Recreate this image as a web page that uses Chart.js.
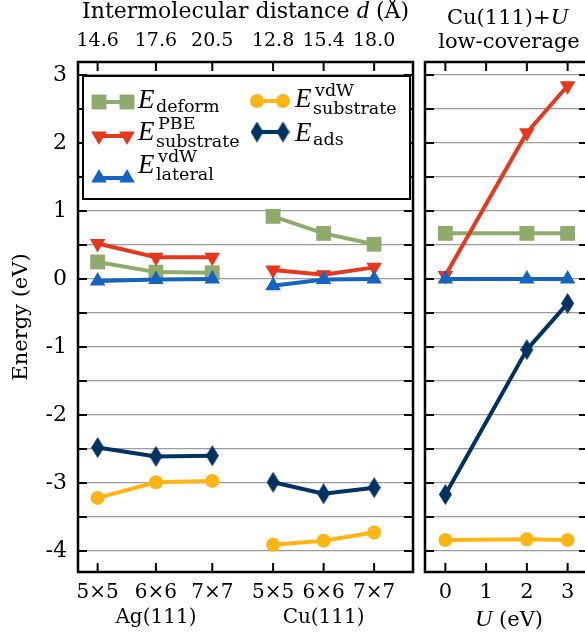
<!DOCTYPE html>
<html lang="en">
<head>
  <meta charset="UTF-8" />
  <title>Energy decomposition - Ag(111) / Cu(111)</title>
  <script src="https://cdn.jsdelivr.net/npm/chart.js"></script>
  <style>
    html, body { margin:0; padding:0; background:#fff; overflow:hidden; }
    #wrap { position:relative; width:585px; height:636px; overflow:hidden; }
    canvas { position:absolute; top:0; }
    #left { left:0; }
    #right { left:420px; }
  </style>
</head>
<body>
  <div id="wrap">
    <canvas id="left" width="420" height="636"></canvas>
    <canvas id="right" width="170" height="636"></canvas>
  </div>

<script>
  // supercells and intermolecular distances (Å)
  const cells = ['5×5', '6×6', '7×7'];
  const surfaces = ['Ag(111)', 'Cu(111)'];
  const agDist = [14.6, 17.6, 20.5];
  const cuDist = [12.8, 15.4, 18.0];
  const uValues = [0, 2, 3];
  const uTicks = [0, 1, 2, 3];
  const yTicks = [-4, -3.5, -3, -2.5, -2, -1.5, -1, -0.5, 0, 0.5, 1, 1.5, 2, 2.5, 3];

  // Ag(111), eV
  const agDeform  = [0.25, 0.10, 0.09];
  const agSubPBE  = [0.52, 0.32, 0.32];
  const agLateral = [-0.03, -0.01, 0.00];
  const agSubVdW  = [-3.22, -2.99, -2.97];
  const agAds     = [-2.48, -2.61, -2.60];

  // Cu(111), eV
  const cuDeform  = [0.92, 0.67, 0.51];
  const cuSubPBE  = [0.13, 0.06, 0.17];
  const cuLateral = [-0.10, -0.01, 0.00];
  const cuSubVdW  = [-3.91, -3.85, -3.73];
  const cuAds     = [-2.99, -3.16, -3.07];

  // Cu(111)+U, low coverage, eV
  const uDeform  = [0.67, 0.67, 0.67];
  const uSubPBE  = [0.05, 2.15, 2.84];
  const uLateral = [0.00, 0.00, 0.00];
  const uSubVdW  = [-3.84, -3.83, -3.84];
  const uAds     = [-3.17, -1.04, -0.36];

  // Cu group is drawn to the right of the Ag group on the same distance axis
  const CU_SHIFT = 10.83;
  const FONT = '"DejaVu Serif", serif';
  const MATH = '"Liberation Serif", serif';   // for italic symbols

  // tall diamond marker
  function makeDiamond(w, h, color) {
    const c = document.createElement('canvas');
    c.width = w; c.height = h;
    const g = c.getContext('2d');
    g.fillStyle = color;
    g.beginPath();
    g.moveTo(w / 2, 0); g.lineTo(w, h / 2); g.lineTo(w / 2, h); g.lineTo(0, h / 2);
    g.closePath(); g.fill();
    return c;
  }

  const styles = {
    deform:  { color:'#8fab6b', pointStyle:'rect',     radius:10.5, rotation:0,   order:3 },
    subPBE:  { color:'#e5381c', pointStyle:'triangle', radius:9,    rotation:180, order:2 },
    lateral: { color:'#1565c0', pointStyle:'triangle', radius:9,    rotation:0,   order:1 },
    subVdW:  { color:'#fdb515', pointStyle:'circle',   radius:7,    rotation:0,   order:4 },
    ads:     { color:'#003262', pointStyle:makeDiamond(13, 21, '#003262'), radius:10, rotation:0, order:5 }
  };

  function series(key, xs, ys) {
    const s = styles[key];
    return {
      label: key,
      data: xs.map((x, i) => ({ x: x, y: ys[i] })),
      borderColor: s.color,
      backgroundColor: s.color,
      borderWidth: 4,
      pointStyle: s.pointStyle,
      pointRadius: s.radius,
      pointHoverRadius: s.radius,
      pointRotation: s.rotation,
      pointBorderWidth: 0,
      pointBackgroundColor: s.color,
      order: s.order
    };
  }

  function drawMarker(ctx, s, x, y, r) {
    ctx.fillStyle = s.color;
    if (typeof s.pointStyle !== 'string') {
      ctx.drawImage(s.pointStyle, x - s.pointStyle.width / 2, y - s.pointStyle.height / 2);
      return;
    }
    ctx.beginPath();
    if (s.pointStyle === 'rect') {
      const h = Math.SQRT1_2 * r;
      ctx.rect(x - h, y - h, 2 * h, 2 * h);
    } else if (s.pointStyle === 'circle') {
      ctx.arc(x, y, r, 0, Math.PI * 2);
    } else {
      let a = s.rotation * Math.PI / 180;
      for (let k = 0; k < 3; k++) {
        const px = x + Math.sin(a) * r, py = y - Math.cos(a) * r;
        k ? ctx.lineTo(px, py) : ctx.moveTo(px, py);
        a += 2 * Math.PI / 3;
      }
      ctx.closePath();
    }
    ctx.fill();
  }

  function drawRuns(ctx, runs, x, y, align) {
    let w = 0;
    runs.forEach(r => { ctx.font = r.font; r.w = ctx.measureText(r.text).width; w += r.w; });
    let cx = align === 'center' ? x - w / 2 : x;
    ctx.textAlign = 'left';
    ctx.textBaseline = 'alphabetic';
    ctx.fillStyle = '#000';
    runs.forEach(r => { ctx.font = r.font; ctx.fillText(r.text, cx, y); cx += r.w; });
  }

  const reg = (px) => px + 'px ' + FONT;
  const ita = (px) => 'italic ' + px + 'px ' + MATH;

  // frame with inward ticks
  const frame = {
    id: 'frame',
    afterDraw(chart) {
      const { ctx, chartArea: a, scales } = chart;
      ctx.save();
      ctx.strokeStyle = '#000';
      ctx.lineWidth = 2;
      ctx.beginPath();
      scales.y.ticks.forEach(t => {
        const py = scales.y.getPixelForValue(t.value);
        ctx.moveTo(a.left, py); ctx.lineTo(a.left + 9, py);
        ctx.moveTo(a.right - 9, py); ctx.lineTo(a.right, py);
      });
      scales.x.ticks.forEach(t => {
        const px = scales.x.getPixelForValue(t.value);
        ctx.moveTo(px, a.bottom); ctx.lineTo(px, a.bottom - 9);
        ctx.moveTo(px, a.top); ctx.lineTo(px, a.top + 9);
      });
      ctx.stroke();
      ctx.lineWidth = 2.5;
      ctx.strokeRect(a.left, a.top, a.right - a.left, a.bottom - a.top);
      ctx.restore();
    }
  };

  const legendItems = [
    { key:'deform',  mx:[99, 127],  my:102, tx:138, ty:108, sub:'deform',    sup:'' },
    { key:'subPBE',  mx:[99, 127],  my:136, tx:138, ty:140, sub:'substrate', sup:'PBE' },
    { key:'lateral', mx:[99, 127],  my:178, tx:138, ty:173, sub:'lateral',   sup:'vdW' },
    { key:'subVdW',  mx:[257, 283], my:101, tx:295, ty:107, sub:'substrate', sup:'vdW' },
    { key:'ads',     mx:[257, 283], my:132, tx:295, ty:141, sub:'ads',       sup:'' }
  ];

  const leftExtras = {
    id: 'leftExtras',
    afterDraw(chart) {
      const { ctx, chartArea: a } = chart;
      ctx.save();
      // axis title on top
      drawRuns(ctx, [
        { text:'Intermolecular distance ', font:reg(22) },
        { text:'d', font:ita(25) },
        { text:' (Å)', font:reg(22) }
      ], (a.left + a.right) / 2, 18, 'center');

      // legend box
      ctx.fillStyle = '#fff';
      ctx.fillRect(83, 76, 327, 123);
      ctx.strokeStyle = '#000';
      ctx.lineWidth = 2;
      ctx.strokeRect(83, 76, 327, 123);
      legendItems.forEach(it => {
        const s = styles[it.key];
        ctx.strokeStyle = s.color;
        ctx.lineWidth = 4;
        ctx.beginPath();
        ctx.moveTo(it.mx[0], it.my); ctx.lineTo(it.mx[1], it.my);
        ctx.stroke();
        it.mx.forEach(x => drawMarker(ctx, s, x, it.my, s.radius));
        drawRuns(ctx, [{ text:'E', font:ita(27) }], it.tx, it.ty, 'left');
        const sx = it.tx + 18;
        drawRuns(ctx, [{ text:it.sub, font:reg(17.5) }], sx, it.ty + (it.sup ? 7 : 3.5), 'left');
        if (it.sup) drawRuns(ctx, [{ text:it.sup, font:reg(17.5) }], sx + 2, it.ty - 11, 'left');
      });
      ctx.restore();
    }
  };

  const rightExtras = {
    id: 'rightExtras',
    afterDraw(chart) {
      const { ctx } = chart;
      ctx.save();
      drawRuns(ctx, [{ text:'Cu(111)+', font:reg(21) }, { text:'U', font:ita(24) }], 87.5, 24, 'center');
      drawRuns(ctx, [{ text:'low-coverage', font:reg(21) }], 89, 48, 'center');
      drawRuns(ctx, [{ text:'U', font:ita(24) }, { text:' (eV)', font:reg(21) }], 89, 626, 'center');
      ctx.restore();
    }
  };

  const fixedTicks = (values) => (scale) => { scale.ticks = values.map(v => ({ value: v })); };
  const gridY = { color:'#9c9c9c', lineWidth:1.2, drawTicks:false };

  // ---- left panel: Ag(111) and Cu(111) ----
  const cuPos = cuDist.map(d => d + CU_SHIFT);
  const tickPos = agDist.concat(cuPos);
  const topLabels = agDist.concat(cuDist).map(d => d.toFixed(1));
  const bottomLabels = [];
  surfaces.forEach(sf => cells.forEach((c, j) => bottomLabels.push(j === 1 ? [c, sf] : c)));

  new Chart(document.getElementById('left'), {
    type: 'line',
    data: {
      datasets: [
        series('deform',  agDist, agDeform),
        series('subPBE',  agDist, agSubPBE),
        series('lateral', agDist, agLateral),
        series('subVdW',  agDist, agSubVdW),
        series('ads',     agDist, agAds),
        series('deform',  cuPos, cuDeform),
        series('subPBE',  cuPos, cuSubPBE),
        series('lateral', cuPos, cuLateral),
        series('subVdW',  cuPos, cuSubVdW),
        series('ads',     cuPos, cuAds)
      ]
    },
    options: {
      responsive: false,
      animation: false,
      layout: { autoPadding: false, padding: { top:0, right:7, bottom:0, left:0 } },
      plugins: { legend: { display:false }, tooltip: { enabled:false } },
      scales: {
        x: {
          type: 'linear', position: 'bottom', min: 13.59, max: 30.83,
          grid: { display:false, drawTicks:false }, border: { display:false },
          afterBuildTicks: fixedTicks(tickPos),
          afterFit: (s) => { s.height = 64; },
          ticks: {
            font: { family: FONT, size: 20, lineHeight: 1.25 }, color: '#000',
            padding: 8, autoSkip: false, maxRotation: 0, minRotation: 0,
            callback: (v, i) => bottomLabels[i]
          }
        },
        x2: {
          type: 'linear', position: 'top', min: 13.59, max: 30.83,
          grid: { display:false, drawTicks:false }, border: { display:false },
          afterBuildTicks: fixedTicks(tickPos),
          afterFit: (s) => { s.height = 62; },
          ticks: {
            font: { family: FONT, size: 19 }, color: '#000',
            padding: 9.5, autoSkip: false, maxRotation: 0, minRotation: 0,
            callback: (v, i) => topLabels[i]
          }
        },
        y: {
          type: 'linear', position: 'left', min: -4.31, max: 3.19,
          grid: gridY, border: { display:false },
          afterBuildTicks: fixedTicks(yTicks),
          afterFit: (s) => { s.width = 78; },
          title: { display:true, text:'Energy (eV)', color:'#000',
                   font: { family: FONT, size: 21 }, padding: { top:9, bottom:0 } },
          ticks: {
            font: { family: FONT, size: 22 }, color: '#000', padding: 11,
            autoSkip: false,
            callback: (v) => Number.isInteger(v) ? String(v) : ''
          }
        }
      }
    },
    plugins: [frame, leftExtras]
  });

  // ---- right panel: Cu(111)+U ----
  new Chart(document.getElementById('right'), {
    type: 'line',
    data: {
      datasets: [
        series('deform',  uValues, uDeform),
        series('subPBE',  uValues, uSubPBE),
        series('lateral', uValues, uLateral),
        series('subVdW',  uValues, uSubVdW),
        series('ads',     uValues, uAds)
      ]
    },
    options: {
      responsive: false,
      animation: false,
      layout: { autoPadding: false, padding: { top:62, right:2, bottom:0, left:0 } },
      plugins: { legend: { display:false }, tooltip: { enabled:false } },
      scales: {
        x: {
          type: 'linear', position: 'bottom', min: -0.5, max: 3.5,
          grid: { display:false, drawTicks:false }, border: { display:false },
          afterBuildTicks: fixedTicks(uTicks),
          afterFit: (s) => { s.height = 64; },
          ticks: {
            font: { family: FONT, size: 21 }, color: '#000',
            padding: 8, autoSkip: false, maxRotation: 0, minRotation: 0,
            callback: (v) => String(v)
          }
        },
        y: {
          type: 'linear', position: 'left', min: -4.31, max: 3.19,
          grid: gridY, border: { display:false },
          afterBuildTicks: fixedTicks(yTicks),
          afterFit: (s) => { s.width = 5; },
          ticks: { display:false }
        }
      }
    },
    plugins: [frame, rightExtras]
  });
</script>
</body>
</html>
